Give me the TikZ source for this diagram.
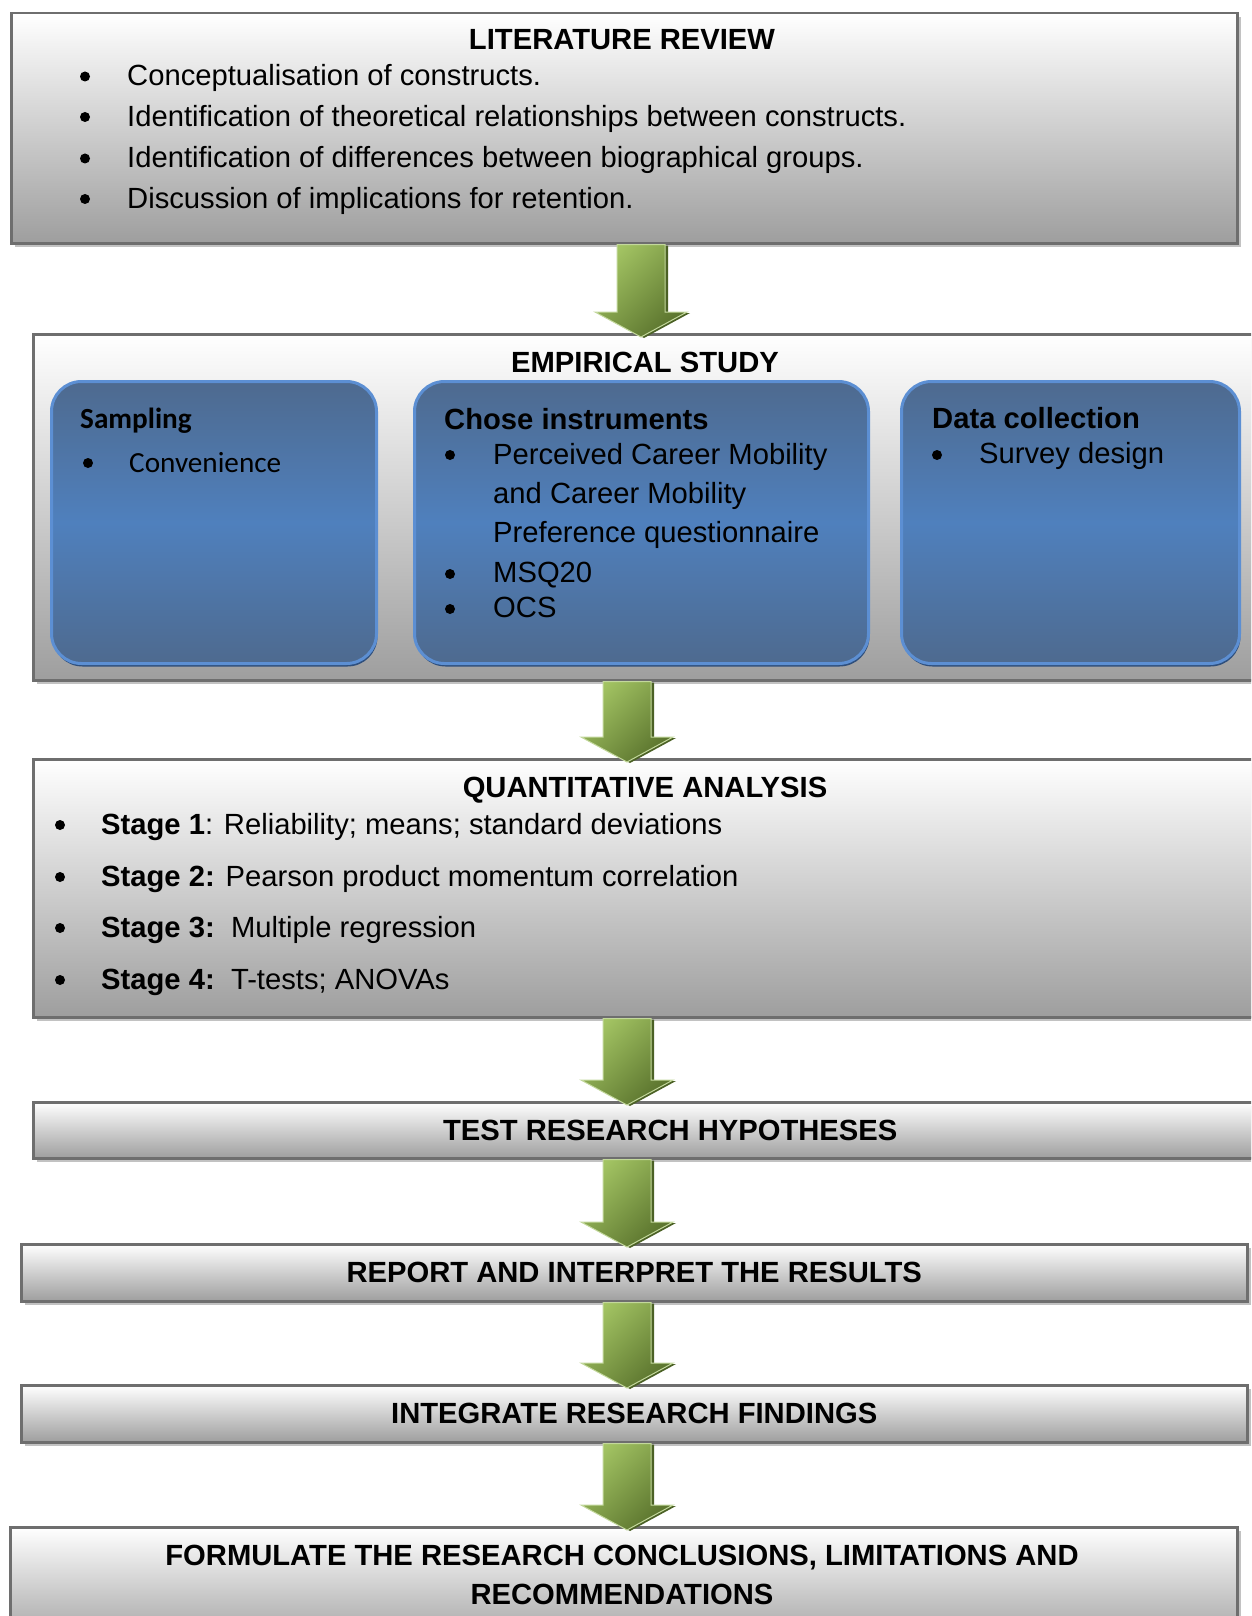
\documentclass[tikz,border=0pt]{standalone}
\usepackage{fontspec}
\setmainfont{Liberation Sans}
\newfontfamily\calibri{Carlito}
\usepackage{tikz}
\usetikzlibrary{calc, shadows}
\definecolor{boxedge}{HTML}{6E6E6E}
\definecolor{boxbottom}{HTML}{9E9E9E}
\definecolor{boxshadow}{HTML}{C2C2C2}
\definecolor{bluedark}{HTML}{4E6A8F}
\definecolor{bluemid}{HTML}{4F80BD}
\definecolor{blueedge}{HTML}{5C8FD3}
\definecolor{blueshadow}{HTML}{2F4F7C}
\definecolor{greenlight}{HTML}{A3C463}
\definecolor{greendark}{HTML}{5A732D}
\definecolor{greenedge}{HTML}{C3D89C}
\definecolor{greenshadow}{HTML}{4B6125}
\newcommand{\bigsize}{\fontsize{29.2}{41}\selectfont}
\tikzset{>=latex}
\tikzset{
  greybox/.style={draw=boxedge, line width=2.5pt, top color=white, bottom color=boxbottom,
    drop shadow={shadow xshift=4pt, shadow yshift=-4pt, fill=boxshadow, opacity=1},
    anchor=north west, inner sep=0pt},
  bluebox/.style={draw=blueedge, line width=3pt, rounded corners=30pt,
    top color=bluedark, bottom color=bluedark, middle color=bluemid,
    drop shadow={shadow xshift=1pt, shadow yshift=-3pt, fill=blueshadow, opacity=1},
    anchor=north west, inner sep=0pt},
  greenarrow/.style={left color=greenlight, right color=greendark, shading angle=45,
    draw=greenedge, line width=1pt,
    drop shadow={shadow xshift=3pt, shadow yshift=-1pt, fill=greenshadow, opacity=1}},
  ttl/.style={anchor=base, inner sep=0pt, font=\bigsize\bfseries},
  txt/.style={anchor=base west, inner sep=0pt}
}
% block arrow: x position, box above, box below
\newcommand{\flowarrow}[3]{%
  \coordinate (top) at (#1,0 |- #2.south);
  \coordinate (tip0) at (#1,0 |- #3.north);
  \coordinate (tip) at ($(tip0)+(0,4)$);
  \path[greenarrow] ($(top)+(-24,0)$) -- ($(top)+(24,0)$) -- ($(tip)+(24,-25)$)
    -- ($(tip)+(46,-25)$) -- (tip) -- ($(tip)+(-46,-25)$) -- ($(tip)+(-24,-25)$) -- cycle;
}

\begin{document}
\begin{tikzpicture}[x=1pt, y=-1pt, font=\bigsize]
\useasboundingbox (0,0) rectangle (1251,1616);
\clip (0,0) rectangle (1251,1616);
\fill[white] (0,0) rectangle (1251,1616);

% literature review
\node[greybox, minimum width=1226pt, minimum height=230pt] (lit) at (10,12) {};
\node[ttl] (litT) at (622,50) {LITERATURE REVIEW};
\fill (85,76.5) circle (5);
\node[txt] (lit1) at (127,86) {Conceptualisation of constructs.};
\fill (85,117) circle (5);
\node[txt] (lit2) at (127,126.5) {Identification of theoretical relationships between constructs.};
\fill (85,158.5) circle (5);
\node[txt] (lit3) at (127,168) {Identification of differences between biographical groups.};
\fill (85,199) circle (5);
\node[txt] (lit4) at (127,208.5) {Discussion of implications for retention.};

% empirical study
\node[greybox, minimum width=1230pt, minimum height=346pt] (emp) at (32,333) {};
\node[ttl] (empT) at (645,372) {EMPIRICAL STUDY};
\node[bluebox, minimum width=325pt, minimum height=282pt] (smp) at (50,380) {};
\node[bluebox, minimum width=454pt, minimum height=282pt] (ins) at (413,380) {};
\node[bluebox, minimum width=338pt, minimum height=282pt] (dat) at (900,380) {};

\node[txt, font=\bigsize\calibri\bfseries] (smpT) at (80,428) {Sampling};
\fill (88,463) circle (5);
\node[txt, font=\bigsize\calibri] (smp1) at (129,472) {Convenience};

\node[txt, font=\bigsize\bfseries] (insT) at (444,429) {Chose instruments};
\fill (450,455) circle (5);
\node[txt] (ins1) at (493,464) {Perceived Career Mobility};
\node[txt] (ins2) at (493,503) {and Career Mobility};
\node[txt] (ins3) at (493,542) {Preference questionnaire};
\fill (450,574) circle (5);
\node[txt] (ins4) at (493,582) {MSQ20};
\fill (450,609) circle (5);
\node[txt] (ins5) at (493,617) {OCS};

\node[txt, font=\bigsize\bfseries] (datT) at (932,428) {Data collection};
\fill (937,455) circle (5);
\node[txt] (dat1) at (979,463) {Survey design};

% quantitative analysis
\node[greybox, minimum width=1274pt, minimum height=258pt] (qua) at (32,758) {};
\node[ttl] (quaT) at (645,797) {QUANTITATIVE ANALYSIS};
\fill (60,825) circle (5);
\node[txt] (qua1) at (101,834) {\textbf{Stage 1}: Reliability; means; standard deviations};
\fill (60,877) circle (5);
\node[txt] (qua2) at (101,886) {\textbf{Stage 2:} Pearson product momentum correlation};
\fill (60,928) circle (5);
\node[txt] (qua3) at (101,937) {\textbf{Stage 3:}\ \ Multiple regression};
\fill (60,980) circle (5);
\node[txt] (qua4) at (101,989) {\textbf{Stage 4:}\ \ T-tests; ANOVAs};

% single line steps
\node[greybox, minimum width=1274pt, minimum height=56pt, font=\bigsize\bfseries] (tst) at (32,1101) {TEST RESEARCH HYPOTHESES};
\node[greybox, minimum width=1226pt, minimum height=57pt, font=\bigsize\bfseries] (rep) at (20,1243) {REPORT AND INTERPRET THE RESULTS};
\node[greybox, minimum width=1226pt, minimum height=57pt, font=\bigsize\bfseries] (int) at (20,1384) {INTEGRATE RESEARCH FINDINGS};

% conclusions
\node[greybox, minimum width=1227pt, minimum height=120pt] (frm) at (9,1526) {};
\node[ttl] (frm1) at (622,1565) {FORMULATE THE RESEARCH CONCLUSIONS, LIMITATIONS AND};
\node[ttl] (frm2) at (622,1604) {RECOMMENDATIONS};

% arrows
\flowarrow{641}{lit}{emp}
\flowarrow{627}{emp}{qua}
\flowarrow{627}{qua}{tst}
\flowarrow{627}{tst}{rep}
\flowarrow{627}{rep}{int}
\flowarrow{627}{int}{frm}
\end{tikzpicture}
\end{document}
